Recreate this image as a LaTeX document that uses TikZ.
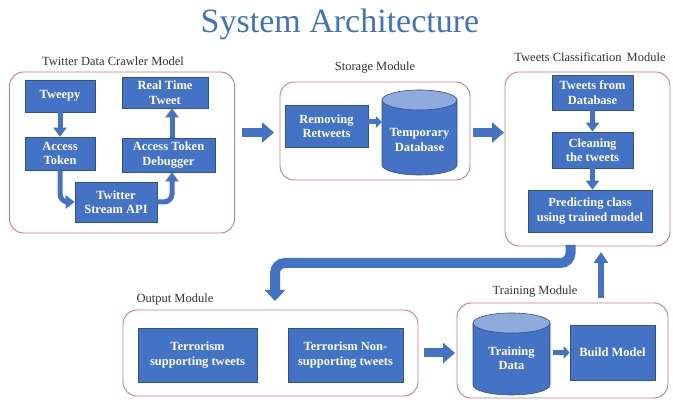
\documentclass[tikz,border=0pt]{standalone}
\usepackage{fontspec}
\setmainfont{Liberation Serif}
\usetikzlibrary{arrows.meta}
\definecolor{boxblue}{HTML}{4472C4}
\definecolor{boxedge}{HTML}{2F528F}
\definecolor{lightblue}{HTML}{8FAADC}
\definecolor{framered}{HTML}{C97A7C}
\definecolor{titleblue}{HTML}{3F74B5}
\newcommand\mycyl[5]{%
  \fill[boxblue] (#1-#2,#3) -- (#1-#2,#4) arc[start angle=180,end angle=360,x radius=#2pt,y radius=#5pt] -- (#1+#2,#3) -- cycle;
  \draw[boxedge,line width=0.6pt] (#1-#2,#3) -- (#1-#2,#4) arc[start angle=180,end angle=360,x radius=#2pt,y radius=#5pt] -- (#1+#2,#3);
  \filldraw[fill=lightblue,draw=boxedge,line width=0.6pt] (#1,#3) ellipse [x radius=#2pt, y radius=#5pt];
}
\begin{document}
\begin{tikzpicture}[x=1pt,y=-1pt,
  blk/.style={draw=boxedge, line width=0.6pt, fill=boxblue, text=white,
    font=\fontsize{12.5}{14.5}\selectfont\bfseries, align=center, inner sep=0pt},
  ghost/.style={text=white, font=\fontsize{12.5}{14.5}\selectfont\bfseries, align=center, inner sep=0pt},
  modframe/.style={draw=framered, line width=0.9pt, rounded corners=14pt, inner sep=0pt},
  modlabel/.style={font=\fontsize{12.5}{14}\selectfont, text=black!80},
  bigarrow/.style={draw=boxblue, line width=9pt, -{Triangle[length=12pt,width=20pt]}},
  midarrow/.style={draw=boxblue, line width=5pt, -{Triangle[length=9pt,width=13pt]}},
  smallarrow/.style={draw=boxblue, line width=5pt, -{Triangle[length=6pt,width=12pt]}},
]
\useasboundingbox (0,0) rectangle (673,403);

% title
\node[font=\fontsize{34}{38}\selectfont, text=titleblue] (title) at (340,24) {System Architecture};

% ---- Crawler module
\node[modframe, minimum width=225pt, minimum height=161pt] (crawlerF) at (122,152.5) {};
\node[modlabel] (crawlerL) at (113,61) {Twitter Data Crawler Model};
\node[blk, minimum width=70pt, minimum height=32pt] (tweepy) at (60,96) {Tweepy};
\node[blk, minimum width=70pt, minimum height=33pt] (access) at (60,153.5) {Access\\Token};
\node[blk, minimum width=86pt, minimum height=31pt] (realtime) at (165,92.5) {Real Time\\Tweet};
\node[blk, minimum width=93pt, minimum height=34pt] (debugger) at (168.5,155) {Access Token\\Debugger};
\node[blk, minimum width=82pt, minimum height=40pt] (stream) at (116,202) {Twitter\\Stream API};
\draw[midarrow] (tweepy.south) -- (access.north);
\draw[midarrow] ([xshift=3.5pt]debugger.north) -- ([xshift=3.5pt]debugger.north |- realtime.south);
\draw[midarrow, rounded corners=8pt] (access.south) |- (stream.west);
\draw[midarrow, rounded corners=8pt] (stream.east) -| ([xshift=3.5pt]debugger.south);

% ---- Storage module
\node[modframe, minimum width=190pt, minimum height=98pt] (storageF) at (375,131) {};
\node[modlabel] (storageL) at (375,68) {Storage Module};
\node[blk, minimum width=83pt, minimum height=42pt] (removing) at (326.5,126) {Removing\\Retweets};
\mycyl{419.5}{37.5}{100}{165}{10}
\node[ghost, minimum width=75pt, minimum height=60pt] (tempdb) at (419.5,140) {Temporary\\Database};
\draw[smallarrow] ([yshift=4pt]removing.east) -- ([yshift=4pt]removing.east -| tempdb.west);

% ---- Classification module
\node[modframe, minimum width=165pt, minimum height=174pt] (classF) at (587.5,159) {};
\node[modlabel] (classL) at (590,57) {Tweets Classification\, Module};
\node[blk, minimum width=81pt, minimum height=35pt] (fromdb) at (592.5,92.5) {Tweets from\\Database};
\node[blk, minimum width=81pt, minimum height=36pt] (cleaning) at (592.5,150) {Cleaning\\the tweets};
\node[blk, minimum width=124pt, minimum height=42pt] (predict) at (590,211) {Predicting class\\using trained model};
\draw[midarrow] (fromdb.south) -- (cleaning.north);
\draw[midarrow] (cleaning.south) -- (cleaning.south |- predict.north);

% inter-module arrows
\coordinate (a1s) at (242,132.5);
\coordinate (a1e) at (274,132.5);
\draw[bigarrow] (a1s) -- (a1e);
\coordinate (a2s) at (473,132.5);
\coordinate (a2e) at (504,132.5);
\draw[bigarrow] (a2s) -- (a2e);

% ---- Output module
\node[modframe, minimum width=295pt, minimum height=86pt] (outF) at (270.5,353) {};
\node[modlabel] (outL) at (175,299) {Output Module};
\node[blk, minimum width=119pt, minimum height=54pt] (supp) at (197.5,355) {Terrorism\\supporting tweets};
\node[blk, minimum width=115pt, minimum height=54pt] (nonsupp) at (345.5,355) {Terrorism Non-\\supporting tweets};

% ---- Training module
\node[modframe, minimum width=211pt, minimum height=95pt] (trainF) at (562.5,350.5) {};
\node[modlabel] (trainL) at (535,292) {Training Module};
\mycyl{511.5}{38.5}{323}{385}{10}
\node[ghost, minimum width=77pt, minimum height=60pt] (traindata) at (511.5,358) {Training\\Data};
\node[blk, minimum width=85pt, minimum height=55pt] (build) at (612.5,352.5) {Build Model};
\draw[smallarrow] ([xshift=3pt]build.west -| traindata.east) -- (build.west);

% output -> training
\coordinate (a3s) at (424,353);
\coordinate (a3e) at (455,353);
\draw[bigarrow] (a3s) -- (a3e);

% training -> classification (up)
\coordinate (a4s) at (601,298);
\coordinate (a4e) at (601,252);
\draw[draw=boxblue, line width=6pt, -{Triangle[length=11pt,width=14pt]}] (a4s) -- (a4e);

% classification -> output (L-shaped)
\coordinate (a5s) at (570.5,245);
\coordinate (a5c) at (275,263);
\coordinate (a5e) at (275,301);
\draw[draw=boxblue, line width=10pt, -{Triangle[length=11pt,width=20pt]}, rounded corners=10pt] (a5s) |- (a5c) -- (a5e);
\end{tikzpicture}
\end{document}
